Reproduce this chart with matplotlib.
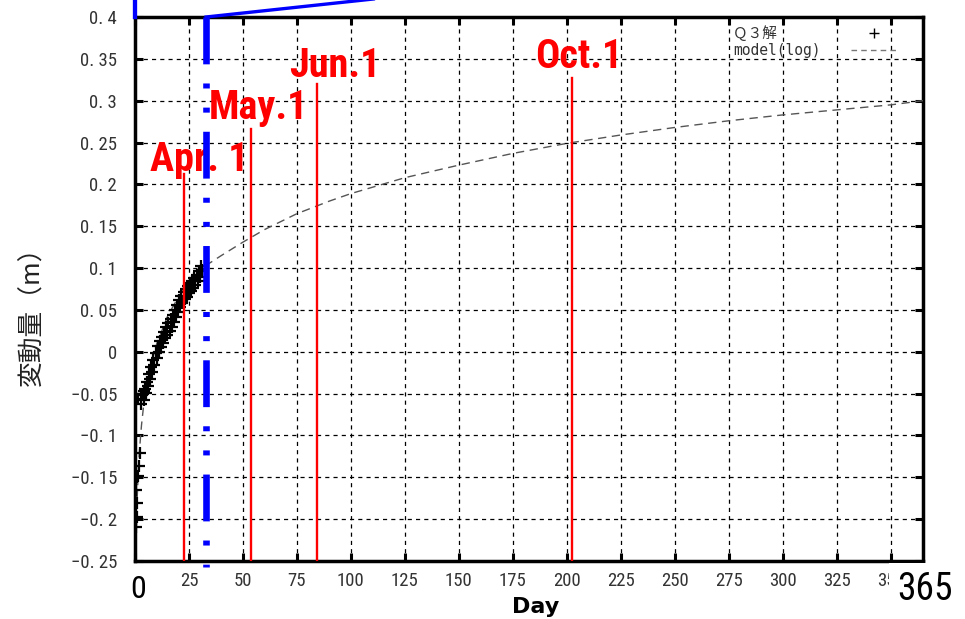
import numpy as np
import matplotlib.pyplot as plt
import matplotlib.font_manager as fm
from matplotlib.lines import Line2D

cjk = ['Noto Sans CJK JP', 'DejaVu Sans']

# observed displacement (Q3), days since start
q3_day = np.arange(3.0, 31.5, 0.5)
q3_val = [-0.062, -0.050, -0.058, -0.044, -0.049, -0.036, -0.041, -0.027, -0.033, -0.018,
          -0.024, -0.010, -0.016, -0.001, -0.007, 0.007, 0.000, 0.013, 0.006, 0.018,
          0.011, 0.024, 0.016, 0.029, 0.020, 0.034, 0.025, 0.039, 0.030, 0.044,
          0.035, 0.050, 0.041, 0.056, 0.047, 0.062, 0.053, 0.067, 0.058, 0.071,
          0.063, 0.075, 0.066, 0.078, 0.070, 0.082, 0.073, 0.085, 0.076, 0.088,
          0.080, 0.092, 0.084, 0.097, 0.089, 0.103, 0.098]
early_day = [2.8, 3.2, 4.0, 1.6, 2.4, 2.0, 1.2, 0.8, 0.5, 0.7, 1.0, 0.6, 0.4]
early_val = [-0.050, -0.052, -0.047, -0.056, -0.121, -0.137, -0.148, -0.150, -0.165, -0.181, -0.198, -0.200, -0.209]

# model(log) curve
model_day = [1, 1.5, 2, 3, 4, 5, 7, 10, 15, 20, 25, 31, 40, 50, 60, 75, 90, 100,
             125, 150, 175, 200, 225, 250, 275, 300, 325, 350, 365]
model_val = [-0.176, -0.143, -0.120, -0.088, -0.064, -0.046, -0.019, 0.009, 0.042, 0.065,
             0.083, 0.100, 0.115, 0.131, 0.146, 0.165, 0.180, 0.189, 0.208, 0.223,
             0.237, 0.249, 0.259, 0.268, 0.276, 0.283, 0.289, 0.295, 0.300]

# month markers
month_labels = ['Apr. 1', 'May.1', 'Jun.1', 'Oct.1']
month_day = [22.9, 53.5, 84.3, 202.3]
month_top = [0.212, 0.266, 0.320, 0.327]
label_day = [6.9, 34.2, 71.3, 185.2]
label_val = [0.2164, 0.278, 0.328, 0.3395]

callout_day = 32.9

xticks = np.arange(0, 351, 25)
yticks = np.round(np.arange(-0.25, 0.401, 0.05), 2)


# look for a narrow / condensed face, the original uses one
def narrow_font(bold):
    best = None
    for f in fm.fontManager.ttflist:
        nm = f.name.lower()
        st = str(f.stretch).lower()
        if not ('narrow' in nm or 'condensed' in nm or 'condensed' in st):
            continue
        if 'extra' in st or 'ultra' in st or f.style != 'normal':
            continue
        w = f.weight
        if isinstance(w, str):
            w = fm.weight_dict.get(w, 400)
        if bold != (w >= 600) or w in (300, 200, 100, 800, 900):
            continue
        rank = 0 if 'liberation' in nm or 'arial' in nm else (1 if 'roboto' in nm else 2)
        if best is None or rank < best[0]:
            best = (rank, f.fname)
    if best is None:
        return None
    return fm.FontProperties(fname=best[1])


nreg = narrow_font(False)
nbold = narrow_font(True)
k_reg = 1.0 if nreg is not None else 0.86
k_bold = 1.0 if nbold is not None else 0.86
if nreg is None:
    nreg = fm.FontProperties(family='Liberation Sans')
if nbold is None:
    nbold = fm.FontProperties(family='Liberation Sans', weight='bold')


def fp(base, size):
    p = base.copy()
    p.set_size(size)
    return p


def ylab(v):
    s = '{:g}'.format(abs(v))
    s = s.replace('.', '. ')
    return ('\u2212' if v < 0 else '') + s


fig = plt.figure(figsize=(9.65, 6.19), dpi=100)
ax = fig.add_axes([135 / 965, 1 - 561 / 619, 788 / 965, 544 / 619])

ax.set_xlim(0, 365)
ax.set_ylim(-0.25, 0.4)
ax.set_xticks(xticks)
ax.set_xticklabels([''] + [str(t) for t in xticks[1:]])
ax.set_yticks(yticks)
ax.set_yticklabels([ylab(v) for v in yticks])
for lab in ax.get_xticklabels() + ax.get_yticklabels():
    lab.set_fontproperties(fp(nreg, 13.5 * k_reg))
    lab.set_color('#333333')

ax.tick_params(direction='in', length=6, width=2.2, top=True, right=True)
ax.tick_params(axis='y', pad=13)
ax.tick_params(axis='x', pad=8)
for sp in ax.spines.values():
    sp.set_linewidth(2.5)

ax.grid(True, color='black', linewidth=0.9, linestyle=(0, (3.3, 3.3)))

# data + model
ax.plot(model_day, model_val, color='#555555', linewidth=1.0, linestyle=(0, (6, 4)), zorder=3)
ax.plot(q3_day, q3_val, linestyle='none', marker='+', color='black', markersize=8, mew=1.6, zorder=4)
ax.plot(early_day, early_val, linestyle='none', marker='+', color='black', markersize=8, mew=1.6, zorder=4)

# month lines and labels
for d, top, lab, ld, lv in zip(month_day, month_top, month_labels, label_day, label_val):
    ax.plot([d, d], [-0.25, top], color='red', linewidth=1.7, zorder=5)
    ax.text(ld, lv, lab, color='red', fontproperties=fp(nbold, 29 * k_bold),
            ha='left', va='baseline', zorder=6)

# blue callout
ax.plot([callout_day, callout_day], [0.4, -0.257], color='#0000ff', linewidth=4.75,
        linestyle=(0, (7.1, 2.9, 0.76, 2.9, 0.76, 2.9)), solid_capstyle='butt',
        dash_capstyle='butt', clip_on=False, zorder=7)
ax.plot([callout_day, 123], [0.4, 0.425], color='#0000ff', linewidth=2.4, clip_on=False, zorder=7)
ax.plot([0, 0], [0.4, 0.43], color='#0000ff', linewidth=3.1, clip_on=False, zorder=7)

# legend (labels padded so they read left aligned)
handles = [Line2D([], [], linestyle='none', marker='+', color='black', markersize=7, mew=1.0),
           Line2D([], [], color='#777777', linewidth=1.0, linestyle=(0, (4, 3)))]
leg = ax.legend(handles, ['\uff31\uff13\u89e3     ', 'model(log)'], loc='upper right',
                bbox_to_anchor=(0.968, 0.985), borderaxespad=0, borderpad=0,
                frameon=False, markerfirst=False, handlelength=3.2, handletextpad=2.1,
                labelspacing=0.15, prop={'family': ['DejaVu Sans Mono', 'Noto Sans CJK JP'], 'size': 10.5})
for t in leg.get_texts():
    t.set_color('#333333')

# axis labels
fig.text(32 / 965, 1 - 310 / 619, '変動量（m）', rotation=90, ha='center', va='center',
         fontsize=18.5, family=cjk, color='#222222')
fig.text(536 / 965, 1 - 607 / 619, 'Day', ha='center', va='center', fontsize=16,
         fontweight='bold', family=['DejaVu Sans'])
fig.text(138 / 965, 1 - 590 / 619, '0', ha='center', va='center', fontproperties=fp(nreg, 23 * k_reg))
fig.text(897 / 965, 1 - 590 / 619, '365', ha='left', va='center', fontproperties=fp(nreg, 27 * k_reg),
         bbox=dict(facecolor='white', edgecolor='none', pad=6))

fig.savefig('out.png', dpi=100)
